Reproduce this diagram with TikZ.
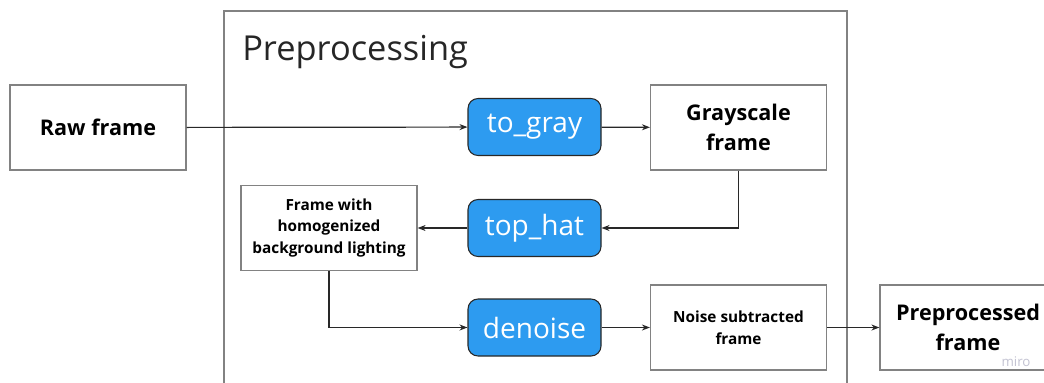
\documentclass[tikz,border=0pt]{standalone}
\usepackage{fontspec}
\setmainfont{Open Sans}
\usetikzlibrary{arrows.meta}
\definecolor{stepblue}{RGB}{45,155,240}
\definecolor{boxgray}{RGB}{130,130,130}
\definecolor{linegray}{RGB}{40,40,40}
\definecolor{mirogray}{RGB}{195,195,210}
\begin{document}
\begin{tikzpicture}[x=0.75pt,y=-0.75pt]
\tikzstyle{every node}=[]
\tikzstyle{framebox}=[draw=boxgray, line width=0.9pt, fill=white, minimum width=132pt, minimum height=63.75pt, align=center, inner sep=2pt]
\tikzstyle{stepbox}=[draw=linegray, line width=0.8pt, fill=stepblue, rounded corners=7.5pt, minimum width=99.75pt, minimum height=42.75pt, text=white, font=\fontsize{21}{25}\selectfont]
\tikzstyle{big}=[font=\fontsize{16.2}{22}\selectfont\bfseries]
\tikzstyle{small}=[font=\fontsize{11.5}{16.2}\selectfont\bfseries]
\tikzstyle{flow}=[draw=linegray, line width=0.9pt, -{Stealth[length=6pt,width=4.5pt]}]

\useasboundingbox (0,0) rectangle (1044,382);
\clip (0,0) rectangle (1044,382);

% container
\draw[boxgray, line width=0.9pt] (224,390) -- (224,11) -- (847,11) -- (847,390);
\node[anchor=base west, inner sep=0pt, text=black!85, font=\fontsize{25.8}{30}\selectfont] (title) at (242,60) {Preprocessing};

\node[framebox, big]   (raw)     at (98,127.5)    {Raw frame};
\node[stepbox]         (togray)  at (534.5,127)   {to\_gray};
\node[framebox, big]   (gscale)  at (738.5,127.5) {Grayscale\\frame};
\node[stepbox]         (tophat)  at (534.5,228)   {top\_hat};
\node[framebox, small] (homog)   at (329,228)     {Frame with\\homogenized\\background lighting};
\node[stepbox]         (denoise) at (534.5,327.5) {denoise};
\node[framebox, small] (noise)   at (738.5,327.5) {Noise subtracted\\frame};
\node[framebox, big]   (prep)    at (968,327.5)   {Preprocessed\\frame};
\node[text=mirogray, font=\fontsize{10}{12}\selectfont] (miro) at (1016,362) {miro};

\draw[flow] (raw) -- (togray);
\draw[flow] (togray) -- (gscale);
\draw[flow] (gscale.south) |- (tophat.east);
\draw[flow] (tophat) -- (homog);
\draw[flow] (homog.south) |- (denoise.west);
\draw[flow] (denoise) -- (noise);
\draw[flow] (noise) -- (prep);
\end{tikzpicture}
\end{document}
